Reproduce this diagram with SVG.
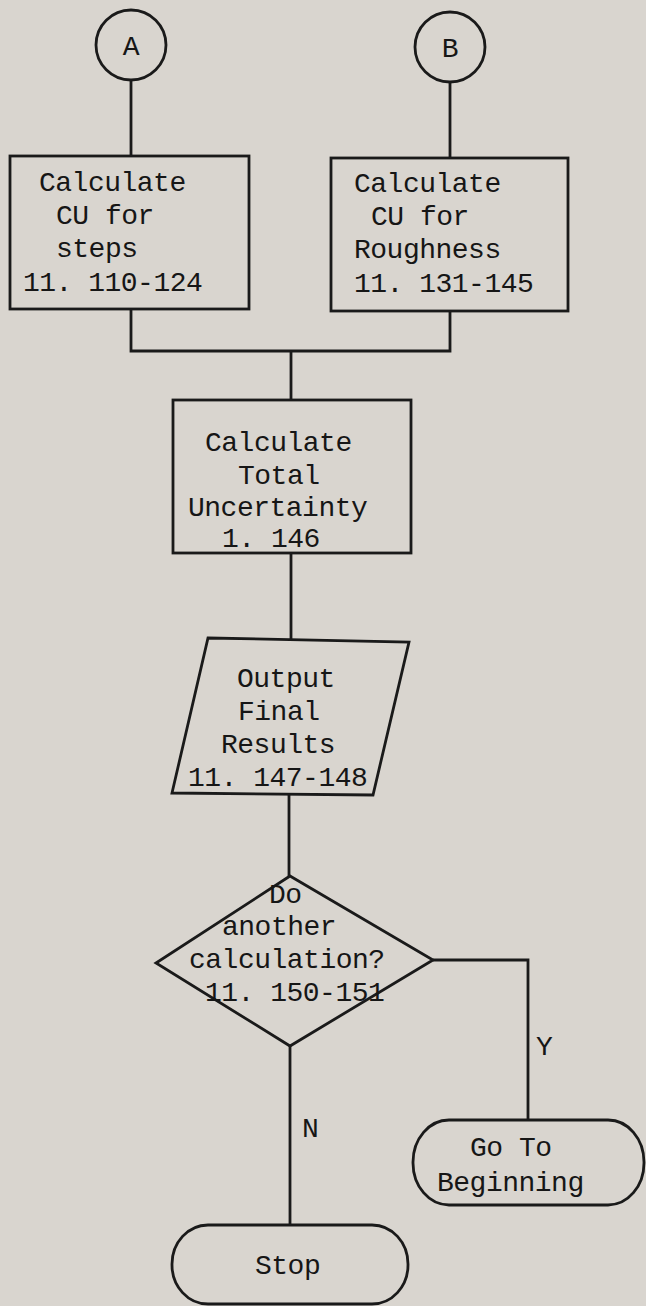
<svg xmlns="http://www.w3.org/2000/svg" width="646" height="1306" viewBox="0 0 646 1306">
  <style>
    .shape { fill: none; stroke: #1a1a1a; stroke-width: 2.8; stroke-linejoin: miter; }
    .wire { fill: none; stroke: #1a1a1a; stroke-width: 2.8; }
    .t { font-family: "Liberation Mono", "DejaVu Sans Mono", monospace; font-size: 28px; letter-spacing: -0.5px; fill: #161616; }
    .c { text-anchor: middle; }
  </style>

  <!-- paper -->
  <rect x="0" y="0" width="646" height="1306" fill="#d9d5cf"/>

  <!-- connectors -->
  <g id="connectors">
    <path class="wire" d="M131 80 V156"/>
    <path class="wire" d="M450 82 V158"/>
    <path class="wire" d="M131 309 V351 H450 V311"/>
    <path class="wire" d="M291 351 V400"/>
    <path class="wire" d="M291 553 V640"/>
    <path class="wire" d="M289 794 V876"/>
    <path class="wire" d="M433 960 H528 V1120"/>
    <path class="wire" d="M290 1046 V1225"/>
    <text class="t" x="536" y="1055">Y</text>
    <text class="t" x="302" y="1137">N</text>
  </g>

  <!-- connector A -->
  <g id="conn-a">
    <ellipse class="shape" cx="131" cy="45" rx="35" ry="35"/>
    <text class="t c" x="131" y="55">A</text>
  </g>

  <!-- connector B -->
  <g id="conn-b">
    <ellipse class="shape" cx="450" cy="47" rx="35" ry="35"/>
    <text class="t c" x="450" y="57">B</text>
  </g>

  <!-- CU for steps -->
  <g id="cu-steps">
    <rect class="shape" x="10" y="156" width="239" height="153"/>
    <text class="t" x="39" y="191">Calculate</text>
    <text class="t" x="56" y="224">CU for</text>
    <text class="t" x="56" y="257">steps</text>
    <text class="t" x="23" y="291">11. 110-124</text>
  </g>

  <!-- CU for roughness -->
  <g id="cu-roughness">
    <rect class="shape" x="331" y="158" width="237" height="153"/>
    <text class="t" x="354" y="192">Calculate</text>
    <text class="t" x="371" y="225">CU for</text>
    <text class="t" x="354" y="258">Roughness</text>
    <text class="t" x="354" y="292">11. 131-145</text>
  </g>

  <!-- total uncertainty -->
  <g id="total">
    <rect class="shape" x="173" y="400" width="238" height="153"/>
    <text class="t" x="205" y="451">Calculate</text>
    <text class="t" x="238" y="484">Total</text>
    <text class="t" x="188" y="516">Uncertainty</text>
    <text class="t" x="222" y="547">1. 146</text>
  </g>

  <!-- output -->
  <g id="output">
    <polygon class="shape" points="208,638 409,642 373,795 172,793"/>
    <text class="t" x="237" y="687">Output</text>
    <text class="t" x="238" y="720">Final</text>
    <text class="t" x="221" y="753">Results</text>
    <text class="t" x="188" y="786">11. 147-148</text>
  </g>

  <!-- decision -->
  <g id="decision">
    <polygon class="shape" points="290,876 433,960 290,1046 156,963"/>
    <text class="t" x="269" y="903">Do</text>
    <text class="t" x="222" y="935">another</text>
    <text class="t" x="189" y="968">calculation?</text>
    <text class="t" x="205" y="1001">11. 150-151</text>
  </g>

  <!-- go to beginning -->
  <g id="restart">
    <rect class="shape" x="413" y="1120" width="231" height="85" rx="36" ry="42"/>
    <text class="t" x="470" y="1156">Go To</text>
    <text class="t" x="437" y="1191">Beginning</text>
  </g>

  <!-- stop -->
  <g id="stop">
    <rect class="shape" x="172" y="1225" width="236" height="79" rx="36" ry="39"/>
    <text class="t" x="255" y="1274">Stop</text>
  </g>
</svg>
